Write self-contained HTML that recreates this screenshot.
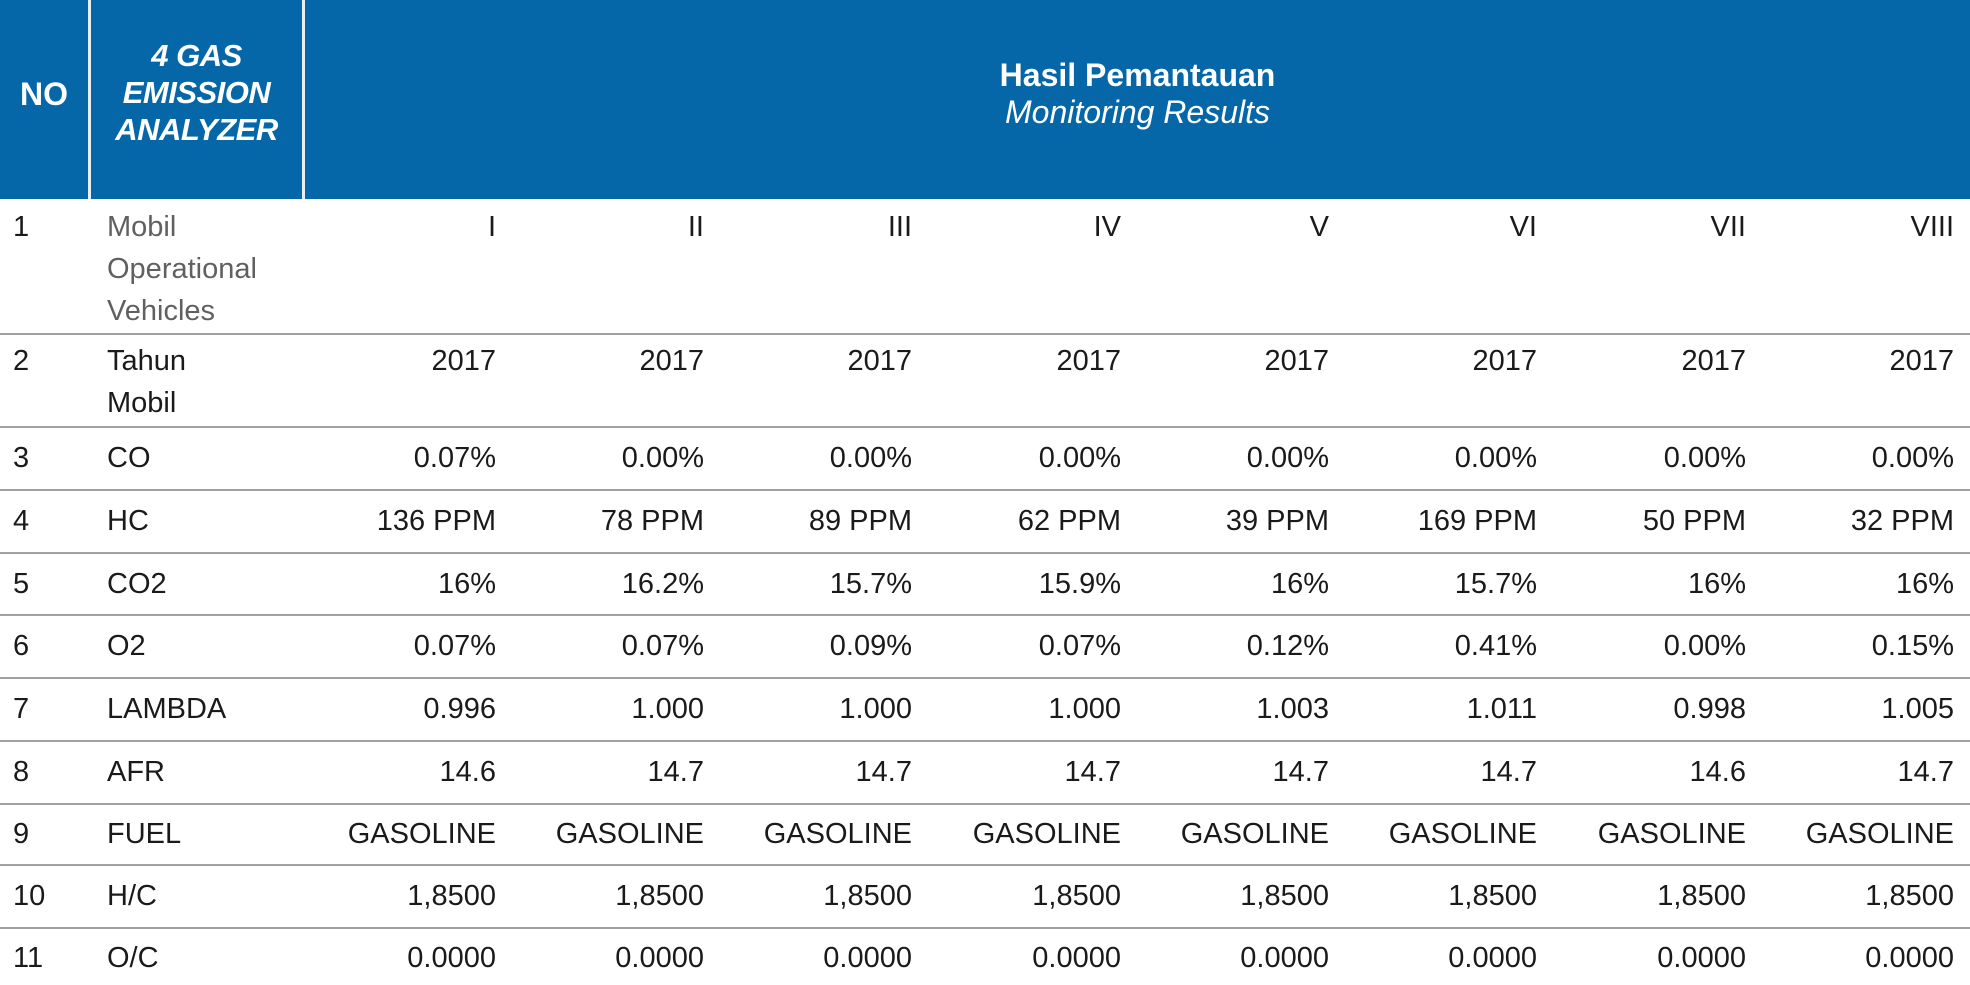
<!DOCTYPE html>
<html><head><meta charset="utf-8"><style>
body{margin:0;width:1970px;height:985px;overflow:hidden;background:#fff;font-family:"Liberation Sans",sans-serif;color:#1a1a1a;position:relative}
.hd{position:absolute;left:0;top:0;width:1970px;height:199px;background:#0567a8}
.vs{position:absolute;top:0;height:199px;width:3px;background:#e8eef5}
.h{position:absolute;color:#fff;text-align:center}
.ln{position:absolute;left:0;width:1970px;height:2px;background:#a0a0a0}
.t{position:absolute;font-size:29px;line-height:42px;white-space:nowrap}
.r{position:absolute;font-size:29px;line-height:42px;text-align:right;width:200px;white-space:nowrap}
</style></head><body>
<div class="hd"></div>
<div class="vs" style="left:88px"></div>
<div class="vs" style="left:302px"></div>
<div class="h" style="left:0;width:88px;top:75px;font-size:32px;font-weight:bold;line-height:38px">NO</div>
<div class="h" style="left:91px;width:211px;top:37px;font-size:31px;font-weight:bold;font-style:italic;line-height:37px;letter-spacing:-0.5px">4 GAS<br>EMISSION<br>ANALYZER</div>
<div class="h" style="left:305px;width:1665px;top:56px;font-size:32px;font-weight:bold;line-height:38px">Hasil Pemantauan</div>
<div class="h" style="left:305px;width:1665px;top:93px;font-size:32px;font-style:italic;line-height:38px">Monitoring Results</div>
<div class="ln" style="top:333px"></div>
<div class="ln" style="top:426px"></div>
<div class="ln" style="top:489px"></div>
<div class="ln" style="top:552px"></div>
<div class="ln" style="top:614px"></div>
<div class="ln" style="top:677px"></div>
<div class="ln" style="top:740px"></div>
<div class="ln" style="top:803px"></div>
<div class="ln" style="top:864px"></div>
<div class="ln" style="top:927px"></div>
<div id="c"></div>
<script>
var rows=[
["1","Mobil<br>Operational<br>Vehicles",["I","II","III","IV","V","VI","VII","VIII"],206,1],
["2","Tahun<br>Mobil",Array(8).fill("2017"),340,0],
["3","CO",["0.07%","0.00%","0.00%","0.00%","0.00%","0.00%","0.00%","0.00%"],437,0],
["4","HC",["136 PPM","78 PPM","89 PPM","62 PPM","39 PPM","169 PPM","50 PPM","32 PPM"],500,0],
["5","CO2",["16%","16.2%","15.7%","15.9%","16%","15.7%","16%","16%"],563,0],
["6","O2",["0.07%","0.07%","0.09%","0.07%","0.12%","0.41%","0.00%","0.15%"],625,0],
["7","LAMBDA",["0.996","1.000","1.000","1.000","1.003","1.011","0.998","1.005"],688,0],
["8","AFR",["14.6","14.7","14.7","14.7","14.7","14.7","14.6","14.7"],751,0],
["9","FUEL",Array(8).fill("GASOLINE"),813,0],
["10","H/C",Array(8).fill("1,8500"),875,0],
["11","O/C",Array(8).fill("0.0000"),937,0]];
var R=[496,704,912,1121,1329,1537,1746,1954],h="";
rows.forEach(function(r){
h+='<div class="t" style="left:13px;top:'+r[3]+'px">'+r[0]+'</div>';
h+='<div class="t" style="left:107px;top:'+r[3]+'px;'+(r[4]?'color:#606060':'')+'">'+r[1]+'</div>';
r[2].forEach(function(v,i){h+='<div class="r" style="left:'+(R[i]-200)+'px;top:'+r[3]+'px">'+v+'</div>';});
});
document.getElementById('c').innerHTML=h;
</script>
</body></html>
